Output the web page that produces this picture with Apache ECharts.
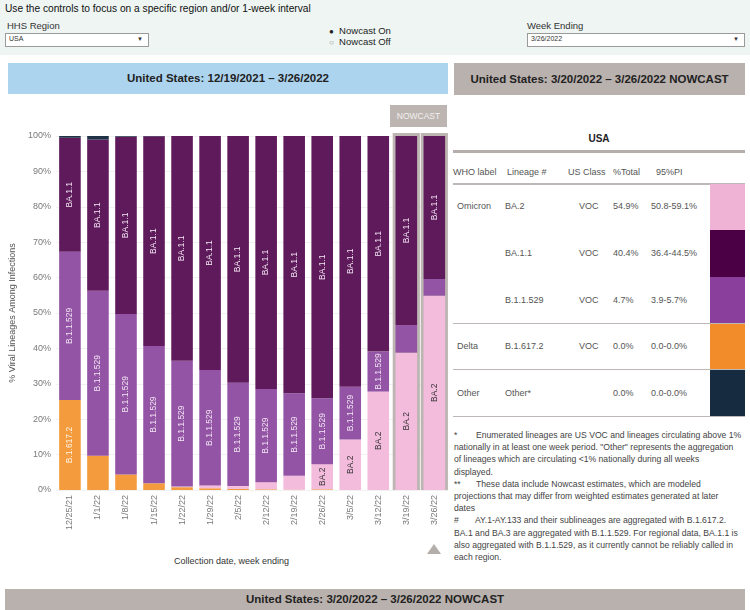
<!DOCTYPE html>
<html>
<head>
<meta charset="utf-8">
<script src="https://cdn.jsdelivr.net/npm/echarts@6/dist/echarts.min.js"></script>
<style>
  html, body { margin:0; padding:0; }
  body { width:750px; height:610px; position:relative; overflow:hidden; background:#fff;
         font-family:'Liberation Sans', Arial, sans-serif; color:#333; }
  .abs { position:absolute; white-space:nowrap; }
  #chart { position:absolute; left:0; top:0; width:750px; height:610px; z-index:2; }
  .sel { position:absolute; background:#fff; border:1px solid #9a9a9a; height:12px; }
  .sel span { position:absolute; top:1px; font-size:7px; color:#333; }
  .hdr { position:absolute; font-weight:bold; font-size:11.5px; color:#222; text-align:center; }
  .tcell { position:absolute; font-size:9px; color:#555; white-space:nowrap; }
  .hline { position:absolute; background:#bdb8b5; }
  .fn { position:absolute; left:454px; font-size:8.65px; color:#444; white-space:nowrap; line-height:12.2px; }
</style>
</head>
<body>
<!-- filter strip -->
<div class="abs" style="left:0;top:0;width:750px;height:55px;background:#eef5f2;"></div>
<div class="abs" style="left:5px;top:3px;font-size:10.2px;color:#111;">Use the controls to focus on a specific region and/or 1-week interval</div>
<div class="abs" style="left:7px;top:20px;font-size:9.5px;color:#333;">HHS Region</div>
<div class="sel" style="left:5px;top:33px;width:142px;"><span style="left:3px;">USA</span><span style="right:5px;font-size:6px;top:2px;">&#9660;</span></div>
<div class="abs" style="left:329px;top:25px;font-size:9.5px;color:#222;"><span style="font-size:8px;">&#9679;</span>&nbsp; Nowcast On</div>
<div class="abs" style="left:329px;top:36px;font-size:9.5px;color:#222;"><span style="font-size:8px;color:#888;">&#9675;</span>&nbsp; Nowcast Off</div>
<div class="abs" style="left:527px;top:20px;font-size:9.5px;color:#333;">Week Ending</div>
<div class="sel" style="left:527px;top:33px;width:216px;"><span style="left:3px;">3/26/2022</span><span style="right:5px;font-size:6px;top:2px;">&#9660;</span></div>

<!-- headers -->
<div class="hdr" style="left:8px;top:63px;width:440px;height:31px;line-height:31px;background:#acd4ee;">United States: 12/19/2021 – 3/26/2022</div>
<div class="hdr" style="left:454px;top:63px;width:291px;height:32px;line-height:32px;background:#b9b1ad;">United States: 3/20/2022 – 3/26/2022 NOWCAST</div>
<div class="abs" style="left:390px;top:105px;width:57px;height:22px;line-height:22px;background:#bdb5b1;color:#f3f0ee;font-size:8.5px;text-align:center;">NOWCAST</div>

<!-- table -->
<div id="table"></div>

<!-- footnotes -->
<div class="fn" style="top:429px;"><span style="display:inline-block;width:22px;">*</span>Enumerated lineages are US VOC and lineages circulating above 1%</div>
<div class="fn" style="top:441.2px;">nationally in at least one week period. "Other" represents the aggregation</div>
<div class="fn" style="top:453.4px;">of lineages which are circulating &lt;1% nationally during all weeks</div>
<div class="fn" style="top:465.6px;">displayed.</div>
<div class="fn" style="top:477.8px;"><span style="display:inline-block;width:22px;">**</span>These data include Nowcast estimates, which are modeled</div>
<div class="fn" style="top:490px;">projections that may differ from weighted estimates generated at later</div>
<div class="fn" style="top:502.2px;">dates</div>
<div class="fn" style="top:514.4px;"><span style="display:inline-block;width:21px;">#</span>AY.1-AY.133 and their sublineages are aggregated with B.1.617.2.</div>
<div class="fn" style="top:526.6px;">BA.1 and BA.3 are aggregated with B.1.1.529. For regional data, BA.1.1 is</div>
<div class="fn" style="top:538.8px;">also aggregated with B.1.1.529, as it currently cannot be reliably called in</div>
<div class="fn" style="top:551px;">each region.</div>

<!-- x axis title & marker -->
<div class="abs" style="left:174px;top:556px;font-size:9px;color:#333;">Collection date, week ending</div>
<div class="abs" style="left:427px;top:544px;width:0;height:0;border-left:7px solid transparent;border-right:7px solid transparent;border-bottom:10px solid #b3aeaa;"></div>

<!-- bottom bar -->
<div class="hdr" style="left:5px;top:589px;width:740px;height:21px;line-height:21px;background:#b9b1ad;">United States: 3/20/2022 – 3/26/2022 NOWCAST</div>

<div id="chart"></div>

<script>
// ---------- chart data ----------
const weeks = ['12/25/21','1/1/22','1/8/22','1/15/22','1/22/22','1/29/22','2/5/22','2/12/22','2/19/22','2/26/22','3/5/22','3/12/22','3/19/22','3/26/22'];
const nowcastWeeks = ['3/19/22','3/26/22'];
const delta   = [25.4, 9.7, 4.4, 1.9, 0.8, 0.5, 0.3, 0.2, 0.1, 0.2, 0, 0, 0, 0];          // B.1.617.2
const ba2     = [0, 0, 0, 0, 0.2, 0.8, 0.8, 2.0, 3.9, 7.1, 14.3, 27.8, 38.8, 54.9];        // BA.2
const b11529  = [41.9, 46.6, 45.3, 38.8, 35.5, 32.6, 29.2, 26.3, 23.3, 18.6, 14.9, 11.3, 7.8, 4.7]; // B.1.1.529
const ba11    = [32.2, 42.7, 50.1, 59.2, 63.5, 66.1, 69.7, 71.5, 72.7, 74.1, 70.8, 60.9, 53.4, 40.4]; // BA.1.1
const other   = [0.5, 1.0, 0.2, 0.1, 0, 0, 0, 0, 0, 0, 0, 0, 0, 0];                      // Other
const yTicks  = [0, 10, 20, 30, 40, 50, 60, 70, 80, 90, 100];

// ---------- table data ----------
const tWho     = ['Omicron', '', '', 'Delta', 'Other'];
const tLineage = ['BA.2', 'BA.1.1', 'B.1.1.529', 'B.1.617.2', 'Other*'];
const tClass   = ['VOC', 'VOC', 'VOC', 'VOC', ''];
const tTotal   = ['54.9%', '40.4%', '4.7%', '0.0%', '0.0%'];
const tPI      = ['50.8-59.1%', '36.4-44.5%', '3.9-5.7%', '0.0-0.0%', '0.0-0.0%'];

const colors = { delta:'#f49b3e', ba2:'#f3bbdc', b11529:'#9354a6', ba11:'#5f1a5b', other:'#1f3246' };
const swatch = ['#efb3d5', '#4b0046', '#8a3f9c', '#f28c2a', '#172b40'];

// ---------- build table ----------
(function(){
  const t = document.getElementById('table');
  let h = '';
  h += '<div class="abs" style="left:569px;top:133px;width:60px;text-align:center;font-weight:bold;font-size:10px;color:#222;">USA</div>';
  h += '<div class="hline" style="left:453px;top:150px;width:292px;height:3px;background:#b5aeaa;"></div>';
  const hx = [453, 507, 568, 613, 656];
  const hn = ['WHO label', 'Lineage #', 'US Class', '%Total', '95%PI'];
  hn.forEach((n,i)=>{ h += '<div class="tcell" style="left:'+hx[i]+'px;top:167px;">'+n+'</div>'; });
  h += '<div class="hline" style="left:453px;top:183px;width:292px;height:2px;"></div>';
  const rowY = [201, 248, 295, 341, 388];
  const cx = [457, 505, 579, 613, 651];
  const sw = [[184,230],[230,277],[277,323],[323,369],[369,416]];
  for (let i=0;i<tLineage.length;i++){
    const vals = [tWho[i], tLineage[i], tClass[i], tTotal[i], tPI[i]];
    vals.forEach((v,j)=>{ h += '<div class="tcell" style="left:'+cx[j]+'px;top:'+rowY[i]+'px;">'+v+'</div>'; });
    h += '<div class="abs" style="left:710px;top:'+sw[i][0]+'px;width:35px;height:'+(sw[i][1]-sw[i][0])+'px;background:'+swatch[i]+';"></div>';
  }
  [322.5, 368.5, 415.5].forEach(y=>{ h += '<div class="hline" style="left:453px;top:'+y+'px;width:292px;height:1.5px;"></div>'; });
  t.innerHTML = h;
})();

// ---------- chart ----------
const chart = echarts.init(document.getElementById('chart'), null, {renderer:'canvas'});
const FONT = "'Liberation Sans', Arial, sans-serif";

function mkLabel(name, minVal, color){
  return {
    show: true, position: 'inside', rotate: 90,
    fontSize: 8.5, fontFamily: FONT, color: color,
    formatter: p => (p.value >= minVal ? name : '')
  };
}

const option = {
  animation: false,
  backgroundColor: 'transparent',
  grid: { left: 46.65, top: 136, width: 401.7, height: 354, containLabel: false },
  xAxis: {
    type: 'category', data: weeks,
    axisLine: { show: false }, axisTick: { show: false },
    axisLabel: { rotate: 90, fontSize: 9, color: '#7a7a7a', margin: 5, fontFamily: FONT, interval: 0 }
  },
  yAxis: {
    type: 'value', min: yTicks[0], max: yTicks[yTicks.length-1], interval: 10,
    axisLine: { show: false }, axisTick: { show: false },
    axisLabel: { formatter: '{value}%', fontSize: 9, color: '#7a7a7a', margin: 5, fontFamily: FONT },
    splitLine: { lineStyle: { color: '#f1f1f1', width: 1 } },
    name: '% Viral Lineages Among Infections', nameLocation: 'middle', nameGap: 31,
    nameTextStyle: { fontSize: 9, color: '#555', fontFamily: FONT }
  },
  series: [
    {
      type: 'custom', z: 1, silent: true,
      data: nowcastWeeks.map(w => [weeks.indexOf(w), 100]),
      encode: { x: 0, y: 1 },
      renderItem: function(params, api){
        const base = api.coord([api.value(0), 0]);
        const top = api.coord([api.value(0), api.value(1)]);
        const bw = api.size([1, 0])[0];
        return { type: 'rect',
          shape: { x: base[0] - bw*0.485, y: top[1] - 3, width: bw*0.97, height: base[1] - top[1] + 3 },
          style: { fill: '#bdb5b1' } };
      }
    },
    { name:'B.1.617.2', type:'bar', stack:'t', z:3, barCategoryGap:'23%', data: delta,
      itemStyle:{ color: colors.delta }, label: mkLabel('B.1.617.2', 15, '#fff4e8') },
    { name:'BA.2', type:'bar', stack:'t', z:3, data: ba2,
      itemStyle:{ color: colors.ba2 }, label: mkLabel('BA.2', 5, '#333') },
    { name:'B.1.1.529', type:'bar', stack:'t', z:3, data: b11529,
      itemStyle:{ color: colors.b11529 }, label: mkLabel('B.1.1.529', 10, '#f3e6f3') },
    { name:'BA.1.1', type:'bar', stack:'t', z:3, data: ba11,
      itemStyle:{ color: colors.ba11 }, label: mkLabel('BA.1.1', 5, '#f3e6f3') },
    { name:'Other', type:'bar', stack:'t', z:3, data: other,
      itemStyle:{ color: colors.other }, label: { show:false } }
  ]
};
chart.setOption(option);
</script>
</body>
</html>
